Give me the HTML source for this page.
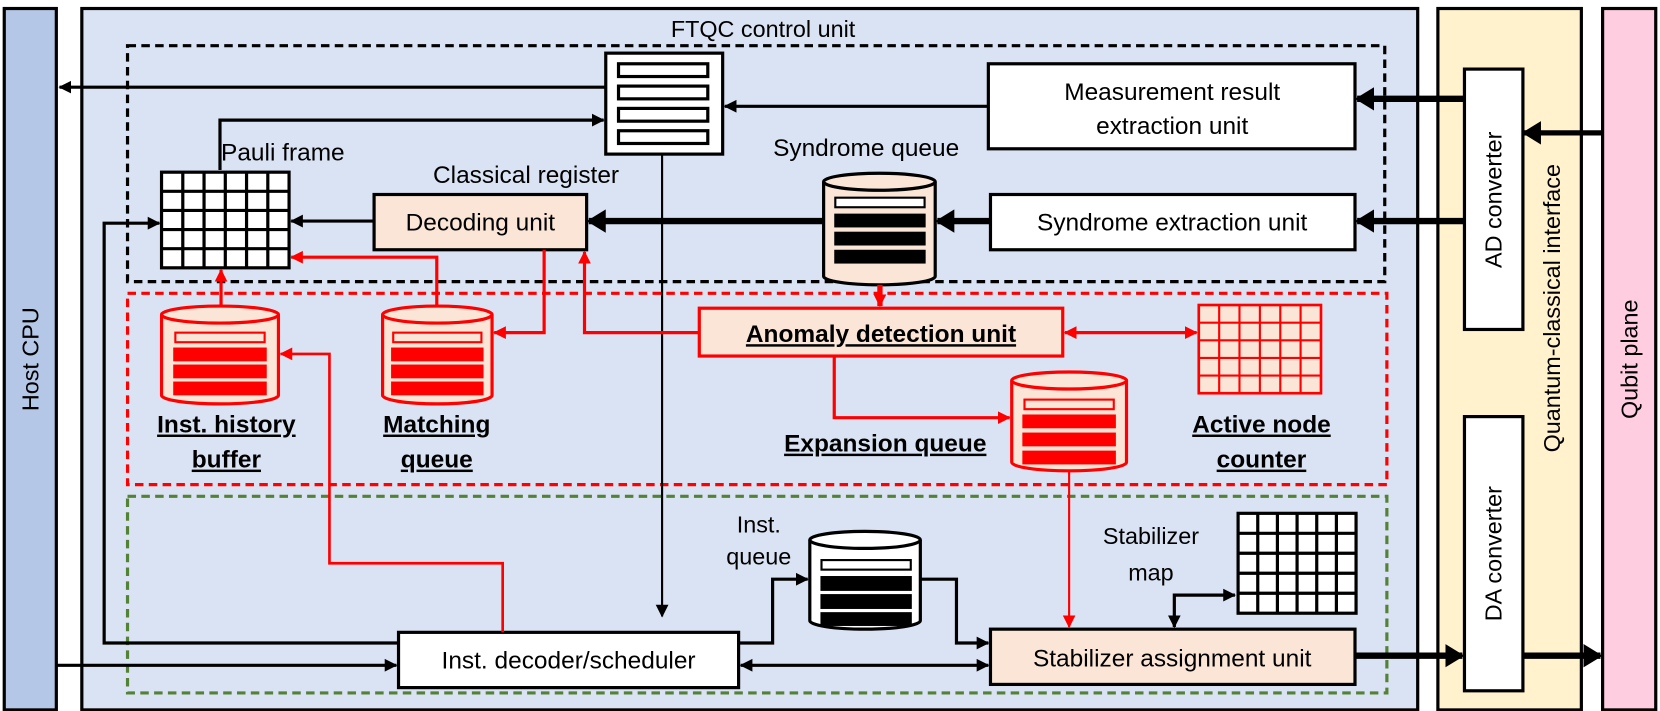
<!DOCTYPE html>
<html><head><meta charset="utf-8"><style>
html,body{margin:0;padding:0;background:#fff}
svg{display:block}
text{font-family:"Liberation Sans Narrow","Liberation Sans",sans-serif;fill:#000}
.w{font-family:"Liberation Sans",sans-serif}
</style></head><body>
<svg width="1660" height="711" viewBox="0 0 1562 669" xmlns="http://www.w3.org/2000/svg">
<defs>
<marker id="a" markerUnits="userSpaceOnUse" markerWidth="14" markerHeight="14" refX="11" refY="7" orient="auto-start-reverse"><path d="M0,1 L12,7 L0,13 Z" fill="#000"/></marker>
<marker id="A" markerUnits="userSpaceOnUse" markerWidth="20" markerHeight="22" refX="16" refY="11" orient="auto-start-reverse"><path d="M0,0 L18,11 L0,22 Z" fill="#000"/></marker>
<marker id="r" markerUnits="userSpaceOnUse" markerWidth="14" markerHeight="14" refX="11" refY="7" orient="auto-start-reverse"><path d="M0,1 L12,7 L0,13 Z" fill="#f00"/></marker>
</defs>
<!-- Host CPU -->
<rect x="4" y="8" width="49" height="660" fill="#b4c7e7" stroke="#000" stroke-width="3"/>
<text class="w" x="0" y="0" font-size="22" text-anchor="middle" transform="translate(36,338) rotate(-90)">Host CPU</text>
<!-- FTQC -->
<rect x="77" y="8" width="1257" height="660" fill="#dae3f3" stroke="#000" stroke-width="3"/>
<text x="718" y="35" font-size="22" text-anchor="middle">FTQC control unit</text>
<rect x="120" y="43" width="1183" height="222" fill="none" stroke="#000" stroke-width="3" stroke-dasharray="8,5"/>
<rect x="120" y="276" width="1185" height="180" fill="none" stroke="#f00" stroke-width="3" stroke-dasharray="8,5"/>
<rect x="120" y="467" width="1185" height="185" fill="none" stroke="#548235" stroke-width="3" stroke-dasharray="8,5"/>
<!-- QC interface -->
<rect x="1353" y="8" width="135" height="660" fill="#fff2cc" stroke="#000" stroke-width="3"/>
<text class="w" font-size="22" text-anchor="middle" transform="translate(1468,290) rotate(-90)">Quantum-classical interface</text>
<rect x="1378" y="65" width="55" height="245" fill="#fff" stroke="#000" stroke-width="3"/>
<text class="w" font-size="22" text-anchor="middle" transform="translate(1413,188) rotate(-90)">AD converter</text>
<rect x="1378" y="392" width="55" height="258" fill="#fff" stroke="#000" stroke-width="3"/>
<text class="w" font-size="22" text-anchor="middle" transform="translate(1413,521) rotate(-90)">DA converter</text>
<rect x="1508" y="8" width="50" height="660" fill="#ffcce0" stroke="#000" stroke-width="3"/>
<text class="w" font-size="22" text-anchor="middle" transform="translate(1541,338) rotate(-90)">Qubit plane</text>

<!-- black connectors -->
<g stroke="#000" fill="none" stroke-width="3">
<path d="M570 82 H56" marker-end="url(#a)"/>
<path d="M207 160 V113 H568" marker-end="url(#a)"/>
<path d="M930 100 H682" marker-end="url(#a)"/>
<path d="M352 208 H274" marker-end="url(#a)"/>
<path d="M375 605 H98 V210 H150" marker-end="url(#a)"/>
<path d="M623 145 V580" stroke-width="2" marker-end="url(#a)"/>
<path d="M54 626 H373" marker-end="url(#a)"/>
<path d="M697 626 H930" marker-start="url(#a)" marker-end="url(#a)"/>
<path d="M695 605 H727 V545 H760" marker-end="url(#a)"/>
<path d="M866 545 H900 V605 H930" marker-end="url(#a)"/>
<path d="M1105 590 V560 H1162" marker-start="url(#a)" marker-end="url(#a)"/>
<path d="M1508 125 H1434" stroke-width="5" marker-end="url(#A)"/>
</g>
<g stroke="#000" fill="none" stroke-width="6">
<path d="M1378 93 H1277" marker-end="url(#A)"/>
<path d="M1378 208 H1277" marker-end="url(#A)"/>
<path d="M932 208 H882" marker-end="url(#A)"/>
<path d="M775 208 H554" marker-end="url(#A)"/>
<path d="M1275 617 H1376" marker-end="url(#A)"/>
<path d="M1433 617 H1506" marker-end="url(#A)"/>
</g>

<!-- register stack -->
<rect x="570" y="50" width="110" height="95" fill="#fff" stroke="#000" stroke-width="3"/>
<g fill="#fff" stroke="#000" stroke-width="3">
<rect x="582" y="60" width="84" height="12"/><rect x="582" y="81" width="84" height="12"/>
<rect x="582" y="102" width="84" height="12"/><rect x="582" y="123" width="84" height="12"/>
</g>
<!-- boxes -->
<rect x="930" y="60" width="345" height="80" fill="#fff" stroke="#000" stroke-width="3"/>
<text x="1103" y="94" font-size="23" text-anchor="middle">Measurement result</text>
<text x="1103" y="126" font-size="23" text-anchor="middle">extraction unit</text>
<rect x="932" y="183" width="343" height="52" fill="#fff" stroke="#000" stroke-width="3"/>
<text x="1103" y="217" font-size="23" text-anchor="middle">Syndrome extraction unit</text>
<text x="815" y="147" font-size="23" text-anchor="middle">Syndrome queue</text>
<rect x="352" y="183" width="200" height="52" fill="#fbe5d6" stroke="#000" stroke-width="3"/>
<text x="452" y="217" font-size="23" text-anchor="middle">Decoding unit</text>
<text x="495" y="172" font-size="23" text-anchor="middle">Classical register</text>
<text x="208" y="151" font-size="23">Pauli frame</text>

<!-- Pauli frame grid -->
<rect x="152" y="162" width="120" height="90" fill="#fff" stroke="#000" stroke-width="3"/>
<path d="M172 162V252M192 162V252M212 162V252M232 162V252M252 162V252M152 180H272M152 198H272M152 216H272M152 234H272" stroke="#000" stroke-width="3"/>

<!-- Syndrome cylinder -->
<path d="M775 171 V260 A52.5 8 0 0 0 880 260 V171" fill="#fbe5d6" stroke="#000" stroke-width="3"/>
<ellipse cx="827.5" cy="171" rx="52.5" ry="8" fill="#fbe5d6" stroke="#000" stroke-width="3"/>
<rect x="786" y="186" width="84" height="9" fill="#fff" stroke="#000" stroke-width="2"/>
<rect x="785" y="201" width="86" height="13" fill="#000"/>
<rect x="785" y="218" width="86" height="13" fill="#000"/>
<rect x="785" y="235" width="86" height="13" fill="#000"/>

<!-- Inst queue cylinder -->
<path d="M762 508 V584 A52 8 0 0 0 866 584 V508" fill="#fff" stroke="#000" stroke-width="3"/>
<ellipse cx="814" cy="508" rx="52" ry="8" fill="#fff" stroke="#000" stroke-width="3"/>
<rect x="773" y="527" width="84" height="9" fill="#fff" stroke="#000" stroke-width="2"/>
<rect x="772" y="542" width="86" height="14" fill="#000"/>
<rect x="772" y="559" width="86" height="14" fill="#000"/>
<rect x="772" y="576" width="86" height="13" fill="#000"/>
<text x="714" y="501" font-size="22" text-anchor="middle">Inst.</text>
<text x="714" y="531" font-size="22" text-anchor="middle">queue</text>

<!-- Stabilizer map -->
<rect x="1165" y="483" width="111" height="94" fill="#fff" stroke="#000" stroke-width="3"/>
<path d="M1183.5 483V577M1202 483V577M1220.5 483V577M1239 483V577M1257.5 483V577M1165 501.8H1276M1165 520.6H1276M1165 539.4H1276M1165 558.2H1276" stroke="#000" stroke-width="3"/>
<text x="1083" y="512" font-size="22" text-anchor="middle">Stabilizer</text>
<text x="1083" y="546" font-size="22" text-anchor="middle">map</text>

<rect x="375" y="595" width="320" height="52" fill="#fff" stroke="#000" stroke-width="3"/>
<text x="535" y="629" font-size="23" text-anchor="middle">Inst. decoder/scheduler</text>
<rect x="932" y="592" width="343" height="52" fill="#fbe5d6" stroke="#000" stroke-width="3"/>
<text x="1103" y="627" font-size="23" text-anchor="middle">Stabilizer assignment unit</text>

<!-- red connectors -->
<g stroke="#f00" fill="none" stroke-width="3">
<path d="M828 268 V288" stroke-width="5" marker-end="url(#r)"/>
<path d="M658 313 H550 V237" marker-end="url(#r)"/>
<path d="M1002 313 H1126" marker-start="url(#r)" marker-end="url(#r)"/>
<path d="M785 335 V393 H950" marker-end="url(#r)"/>
<path d="M1006 443 V590" stroke-width="2" marker-end="url(#r)"/>
<path d="M208 288 V254" marker-end="url(#r)"/>
<path d="M411 288 V242 H274" marker-end="url(#r)"/>
<path d="M512 235 V313 H465" marker-end="url(#r)"/>
<path d="M473 595 V530 H310 V333 H264" stroke-width="2.5" marker-end="url(#r)"/>
</g>

<!-- Anomaly -->
<rect x="658" y="290" width="342" height="45" fill="#fbe5d6" stroke="#f00" stroke-width="3"/>
<text x="829" y="322" font-size="23" font-weight="bold" text-anchor="middle" text-decoration="underline">Anomaly detection unit</text>

<!-- Active node grid -->
<rect x="1128" y="287" width="115" height="83" fill="#fbe5d6" stroke="#f00" stroke-width="2.5"/>
<path d="M1147.2 287V370M1166.3 287V370M1185.5 287V370M1204.7 287V370M1223.8 287V370M1128 303.6H1243M1128 320.2H1243M1128 336.8H1243M1128 353.4H1243" stroke="#f00" stroke-width="2"/>
<text x="1187" y="407" font-size="23" font-weight="bold" text-anchor="middle" text-decoration="underline">Active node</text>
<text x="1187" y="440" font-size="23" font-weight="bold" text-anchor="middle" text-decoration="underline">counter</text>

<!-- red cylinders -->
<g stroke="#f00" stroke-width="3">
<path d="M952 358 V435 A54 8 0 0 0 1060 435 V358" fill="#fbe5d6"/>
<ellipse cx="1006" cy="358" rx="54" ry="8" fill="#fbe5d6"/>
<path d="M152 296 V372 A55 8 0 0 0 262 372 V296" fill="#fbe5d6"/>
<ellipse cx="207" cy="296" rx="55" ry="8" fill="#fbe5d6"/>
<path d="M360 296 V372 A51.5 8 0 0 0 463 372 V296" fill="#fbe5d6"/>
<ellipse cx="411.5" cy="296" rx="51.5" ry="8" fill="#fbe5d6"/>
</g>
<g fill="#f00">
<rect x="964" y="376" width="84" height="9" fill="#fbe5d6" stroke="#f00" stroke-width="2"/>
<rect x="962" y="390" width="88" height="13"/><rect x="962" y="407" width="88" height="13"/><rect x="962" y="424" width="88" height="13"/>
<rect x="165" y="313" width="84" height="9" fill="#fbe5d6" stroke="#f00" stroke-width="2"/>
<rect x="163" y="327" width="88" height="13"/><rect x="163" y="343" width="88" height="13"/><rect x="163" y="359" width="88" height="13"/>
<rect x="370" y="313" width="83" height="9" fill="#fbe5d6" stroke="#f00" stroke-width="2"/>
<rect x="368" y="327" width="87" height="13"/><rect x="368" y="343" width="87" height="13"/><rect x="368" y="359" width="87" height="13"/>
</g>
<text x="833" y="425" font-size="23" font-weight="bold" text-anchor="middle" text-decoration="underline">Expansion queue</text>
<text x="213" y="407" font-size="23" font-weight="bold" text-anchor="middle" text-decoration="underline">Inst. history</text>
<text x="213" y="440" font-size="23" font-weight="bold" text-anchor="middle" text-decoration="underline">buffer</text>
<text x="411" y="407" font-size="23" font-weight="bold" text-anchor="middle" text-decoration="underline">Matching</text>
<text x="411" y="440" font-size="23" font-weight="bold" text-anchor="middle" text-decoration="underline">queue</text>
</svg>
</body></html>
